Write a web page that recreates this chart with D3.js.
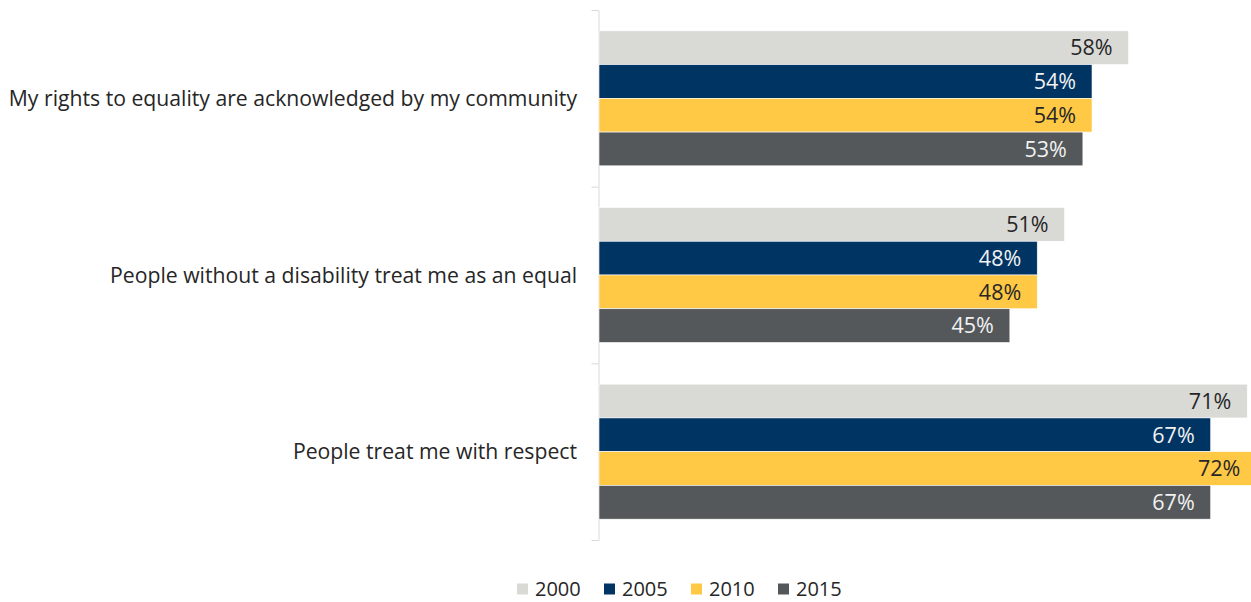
<!DOCTYPE html>
<html>
<head>
<meta charset="utf-8">
<style>
  body { margin: 0; background: #fff; }
  text { font-family: "Open Sans", sans-serif; }
</style>
</head>
<body>
<svg width="1251" height="602"></svg>
<script src="https://d3js.org/d3.v7.min.js"></script>
<script>
  var categories = [
    "My rights to equality are acknowledged by my community",
    "People without a disability treat me as an equal",
    "People treat me with respect"
  ];
  var years = ["2000", "2005", "2010", "2015"];
  var values = {
    "2000": [58, 51, 71],
    "2005": [54, 48, 67],
    "2010": [54, 48, 72],
    "2015": [53, 45, 67]
  };

  var colors = { "2000": "#d9d9d6", "2005": "#003462", "2010": "#ffc845", "2015": "#54585a" };
  var labelColors = { "2000": "#262626", "2005": "#f2f2f2", "2010": "#262626", "2015": "#f2f2f2" };

  var svg = d3.select("svg");
  var x0 = 599;

  // x scale: ~9.13 px per percent
  var x = d3.scaleLinear().domain([0, 70]).range([x0, x0 + 639.1]);

  var y = d3.scaleBand()
      .domain(categories)
      .range([10, 540])
      .paddingInner(0.236)
      .paddingOuter(0.118);

  var yInner = d3.scaleBand()
      .domain(years)
      .range([0, y.bandwidth()]);

  // axis with ticks on group boundaries
  var edge = d3.scaleLinear().domain([0, 3]).range([10, 540]);
  var axis = svg.append("g")
      .attr("transform", "translate(" + (x0 - 0.5) + ",0)")
      .call(d3.axisLeft(edge).tickValues([0, 1, 2, 3]).tickFormat("").tickSize(7).tickSizeOuter(0));
  axis.selectAll("line, path").attr("stroke", "#d9d9d9");

  // bars
  var rows = [];
  categories.forEach(function(c, i) {
    years.forEach(function(yr) {
      rows.push({ cat: c, year: yr, value: values[yr][i] });
    });
  });

  var chart = svg.append("g");
  chart.selectAll("rect")
    .data(rows)
    .enter().append("rect")
    .attr("x", x0)
    .attr("y", function(d) { return y(d.cat) + yInner(d.year); })
    .attr("width", function(d) { return x(d.value) - x0; })
    .attr("height", yInner.bandwidth())
    .attr("fill", function(d) { return colors[d.year]; })
    .attr("stroke", "#ffffff")
    .attr("stroke-width", 0.6);

  chart.selectAll("text.val")
    .data(rows)
    .enter().append("text")
    .attr("class", "val")
    .attr("x", function(d) { return x(d.value) - 16; })
    .attr("y", function(d) { return y(d.cat) + yInner(d.year) + yInner.bandwidth() / 2; })
    .attr("dy", "0.36em")
    .attr("text-anchor", "end")
    .attr("font-size", 21.5)
    .attr("fill", function(d) { return labelColors[d.year]; })
    .text(function(d) { return d.value + "%"; });

  // category labels
  svg.selectAll("text.cat")
    .data(categories)
    .enter().append("text")
    .attr("class", "cat")
    .attr("x", 577)
    .attr("y", function(d) { return y(d) + y.bandwidth() / 2; })
    .attr("dy", "0.36em")
    .attr("text-anchor", "end")
    .attr("font-size", 21.2)
    .attr("fill", "#262626")
    .text(function(d) { return d; });

  // legend
  var legend = svg.append("g").attr("transform", "translate(517,0)");
  var item = legend.selectAll("g")
    .data(years)
    .enter().append("g")
    .attr("transform", function(d, i) { return "translate(" + (i * 87) + ",0)"; });
  item.append("rect")
    .attr("y", 583.5)
    .attr("width", 11)
    .attr("height", 11)
    .attr("fill", function(d) { return colors[d]; });
  item.append("text")
    .attr("x", 18)
    .attr("y", 596)
    .attr("font-size", 20)
    .attr("fill", "#262626")
    .text(function(d) { return d; });
</script>
</body>
</html>
